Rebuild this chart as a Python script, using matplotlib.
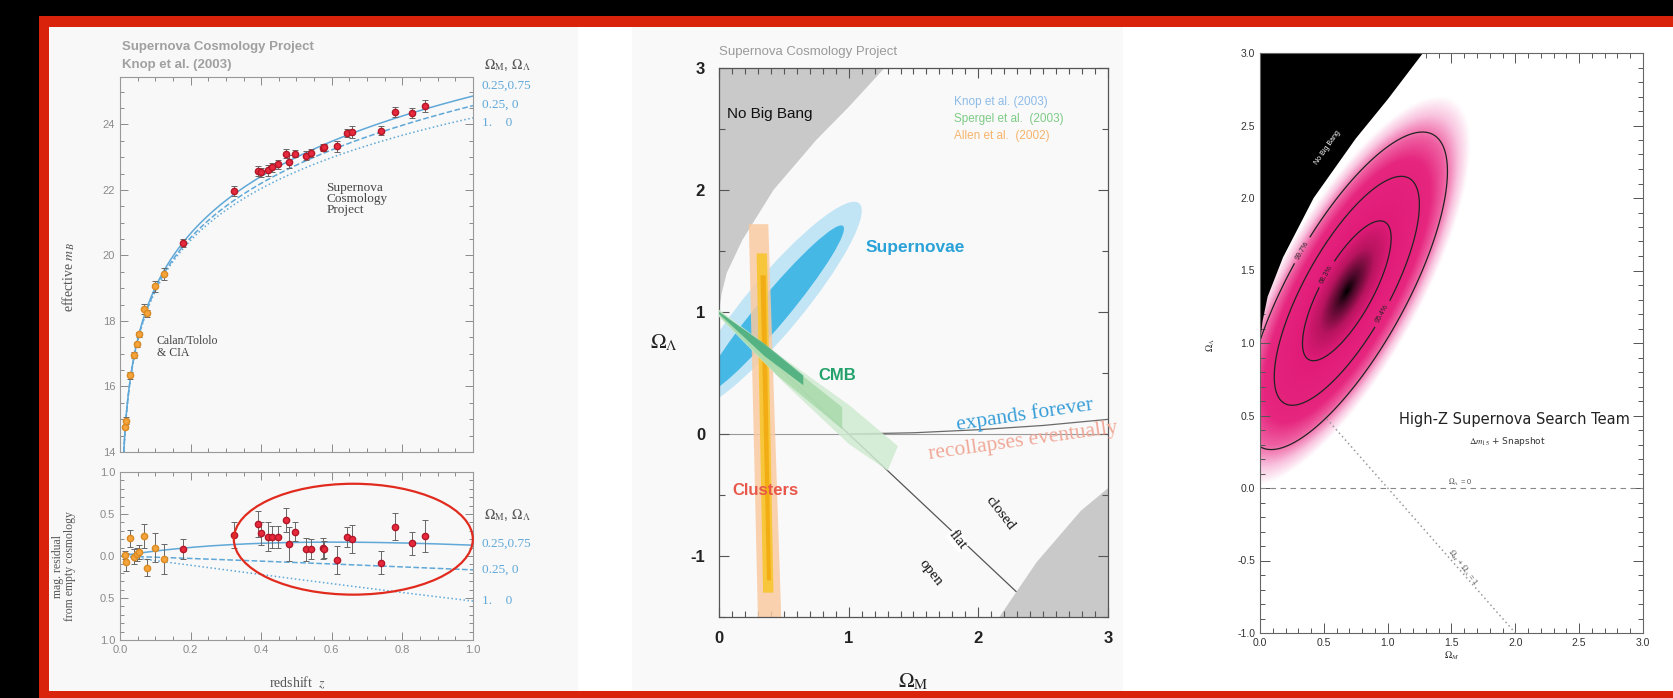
import numpy as np
import matplotlib.pyplot as plt
from matplotlib.patches import Rectangle, Ellipse, Polygon
from matplotlib.colors import LinearSegmentedColormap
from matplotlib.ticker import MultipleLocator, FixedLocator, FixedFormatter

plt.rcParams['mathtext.fontset'] = 'stix'
plt.rcParams['font.family'] = ['Liberation Sans', 'DejaVu Sans']

W, H = 1674, 698

# ---- Knop et al. (2003) Hubble diagram ----
# low-z Calan/Tololo & CfA: redshift, residual from empty cosmology, error
cta_z = [0.015, 0.017, 0.028, 0.041, 0.047, 0.053, 0.069, 0.077, 0.100, 0.125]
cta_res = [0.01, -0.07, 0.21, -0.01, 0.02, 0.05, 0.24, -0.14, 0.10, -0.04]
cta_err = [0.05, 0.11, 0.10, 0.09, 0.08, 0.08, 0.14, 0.10, 0.17, 0.18]

# SCP high-z supernovae
scp_z = [0.179, 0.323, 0.390, 0.400, 0.418, 0.432, 0.448, 0.469, 0.479, 0.495,
         0.526, 0.542, 0.575, 0.578, 0.615, 0.642, 0.658, 0.739, 0.779, 0.828, 0.863]
scp_res = [0.08, 0.25, 0.38, 0.27, 0.23, 0.23, 0.23, 0.43, 0.14, 0.29,
           0.08, 0.08, 0.09, 0.08, -0.05, 0.23, 0.20, -0.08, 0.35, 0.15, 0.24]
scp_err = [0.12, 0.15, 0.15, 0.14, 0.17, 0.13, 0.13, 0.14, 0.20, 0.11,
           0.14, 0.12, 0.12, 0.10, 0.17, 0.12, 0.17, 0.14, 0.16, 0.14, 0.19]

M_SCRIPT = 23.86   # m_B = M + 5 log10(H0 dL / c)

model_om = [0.25, 0.25, 1.0]
model_ol = [0.75, 0.0, 0.0]
model_ls = ['-', '--', ':']
model_lbl = ['0.25,0.75', '0.25, 0', '1.    0']

# ---- Omega_M / Omega_L plane (SCP) ----
nbb_om = [0.0, 0.02, 0.06, 0.18, 0.42, 0.75, 1.00, 1.32]
nbb_ol = [1.0, 1.15, 1.32, 1.59, 2.00, 2.41, 2.68, 3.05]
rec_om = [2.13, 2.45, 2.79, 3.05]
rec_ol = [-1.55, -1.05, -0.63, -0.40]
exp_om = [1.0, 1.5, 2.0, 2.5, 3.0]
exp_ol = [0.0, 0.01, 0.035, 0.07, 0.12]
flat_om = [0.0, 2.5]
flat_ol = [1.0, -1.5]

sn_angle = 52.0
sn_outer = ((0.42, 1.05), 2.14, 0.44)
sn_inner = ((0.42, 1.02), 1.74, 0.24)

cl_outer_om = [0.23, 0.38, 0.48, 0.30]
cl_outer_ol = [1.72, 1.72, -1.50, -1.50]
cl_inner_om = [0.29, 0.37, 0.42, 0.34]
cl_inner_ol = [1.48, 1.48, -1.30, -1.30]
cl_core_om = [0.32, 0.36, 0.40, 0.37]
cl_core_ol = [1.30, 1.30, -1.20, -1.20]

cmb_outer_om = [0.0, 0.5, 1.0, 1.38, 1.30, 1.0, 0.5, 0.0]
cmb_outer_ol = [1.02, 0.62, 0.24, -0.10, -0.30, -0.08, 0.42, 0.96]
cmb_mid_om = [0.0, 0.45, 0.95, 0.95, 0.45, 0.0]
cmb_mid_ol = [1.01, 0.64, 0.22, 0.04, 0.48, 0.97]
cmb_inner_om = [0.0, 0.35, 0.65, 0.65, 0.35, 0.0]
cmb_inner_ol = [1.0, 0.74, 0.48, 0.40, 0.64, 0.985]

# ---- High-Z team likelihood ----
hz_center = (0.68, 1.36)
hz_angle = 57.0
hz_sigma = (0.37, 0.13)
hz_levels = [1.515, 2.48, 3.44]
hz_level_lbl = ['68.3%', '95.4%', '99.7%']
hz_flat_om = [0.5, 2.0]
hz_flat_ol = [0.5, -1.0]


def lum_dist(z, om, ol):
    """luminosity distance in units of c/H0"""
    z = np.asarray(z, dtype=float)
    zz = np.linspace(0, max(z.max(), 1.0), 4000)
    ok = 1.0 - om - ol
    ez = np.sqrt(om * (1 + zz)**3 + ok * (1 + zz)**2 + ol)
    chi = np.concatenate([[0], np.cumsum(0.5 * (1/ez[1:] + 1/ez[:-1]) * np.diff(zz))])
    chi = np.interp(z, zz, chi)
    if ok > 1e-8:
        s = np.sinh(np.sqrt(ok) * chi) / np.sqrt(ok)
    elif ok < -1e-8:
        s = np.sin(np.sqrt(-ok) * chi) / np.sqrt(-ok)
    else:
        s = chi
    return (1 + z) * s


def fbox(x0, y0, x1, y1):
    return [x0 / W, 1 - y1 / H, (x1 - x0) / W, (y1 - y0) / H]


def fpt(x, y):
    return x / W, 1 - y / H


fig = plt.figure(figsize=(W / 100, H / 100), dpi=100)
fig.patch.set_facecolor('black')

for box, col in [((39, 16, W, H), '#d9230b'), ((49, 27, W, 691), 'white'),
                 ((49, 27, 578, 691), '#f8f8f8'), ((632, 27, 1123, 691), '#f9f9f9')]:
    l, b, w, h = fbox(*box)
    fig.add_artist(Rectangle((l, b), w, h, transform=fig.transFigure,
                             facecolor=col, edgecolor='none', zorder=-5))

serif = 'Liberation Serif'
blue = '#5fa8d8'
gtick = '#8a8a8a'

# ================= left: Hubble diagram =================
ax1 = fig.add_axes(fbox(120, 77, 473, 452))
ax2 = fig.add_axes(fbox(120, 472, 473, 640))
zz = np.linspace(0.006, 1.0, 500)
cz, sz = np.array(cta_z), np.array(scp_z)
m_cta = M_SCRIPT + 5 * np.log10(lum_dist(cz, 0, 0)) + np.array(cta_res)
m_scp = M_SCRIPT + 5 * np.log10(lum_dist(sz, 0, 0)) + np.array(scp_res)

for om, ol, ls in zip(model_om, model_ol, model_ls):
    ax1.plot(zz, M_SCRIPT + 5 * np.log10(lum_dist(zz, om, ol)), ls=ls, color=blue, lw=1.1)
    ax2.plot(zz, 5 * np.log10(lum_dist(zz, om, ol) / lum_dist(zz, 0, 0)), ls=ls, color=blue, lw=1.1)

ekw = dict(fmt='o', ms=4.5, ecolor='#666666', elinewidth=0.7, capsize=2, capthick=0.7, zorder=3)
ax1.errorbar(cz, m_cta, yerr=cta_err, mfc='#f4a43a', mec='#d98a22', **ekw)
ax1.errorbar(sz, m_scp, yerr=scp_err, mfc='#e8283c', mec='#b01828', **ekw)
ax2.errorbar(cz, cta_res, yerr=cta_err, mfc='#f4a43a', mec='#d98a22', **ekw)
ax2.errorbar(sz, scp_res, yerr=scp_err, mfc='#e8283c', mec='#b01828', **ekw)

ax1.set_xlim(0, 1)
ax1.set_ylim(14, 25.45)
ax2.set_xlim(0, 1)
ax2.set_ylim(-1, 1)
for ax in (ax1, ax2):
    ax.set_facecolor('none')
    ax.xaxis.set_major_locator(MultipleLocator(0.2))
    ax.xaxis.set_minor_locator(MultipleLocator(0.05))
    ax.tick_params(which='both', direction='in', top=True, right=True,
                   color=gtick, labelcolor=gtick, labelsize=8, width=0.7)
    ax.tick_params(which='major', length=6)
    ax.tick_params(which='minor', length=3)
    for sp in ax.spines.values():
        sp.set_color('#999999')
        sp.set_linewidth(0.8)
ax1.tick_params(labelbottom=False)
ax1.yaxis.set_major_locator(MultipleLocator(2))
ax1.yaxis.set_minor_locator(MultipleLocator(0.5))
ax2.yaxis.set_major_locator(FixedLocator([-1, -0.5, 0, 0.5, 1]))
ax2.yaxis.set_major_formatter(FixedFormatter(['1.0', '0.5', '0.0', '0.5', '1.0']))
ax2.yaxis.set_minor_locator(MultipleLocator(0.1))
ax2.set_xticks([0, 0.2, 0.4, 0.6, 0.8, 1.0])
ax2.set_xticklabels(['0.0', '0.2', '0.4', '0.6', '0.8', '1.0'])

ax1.set_ylabel(r'effective $m_B$', family=serif, fontsize=10, color='#555555')
ax1.yaxis.set_label_coords(-0.122, 0.467)
ax2.set_ylabel('mag. residual\nfrom empty cosmology', family=serif, fontsize=8.5,
               color='#555555', linespacing=0.95)
ax2.yaxis.set_label_coords(-0.125, 0.44)
fig.text(*fpt(297, 683), r'redshift  $z$', family=serif, fontsize=10, color='#555555',
         ha='center', va='center')

fig.text(*fpt(122, 47), 'Supernova Cosmology Project', fontsize=9.5, color='#a0a0a0',
         va='center', weight='bold')
fig.text(*fpt(122, 65), 'Knop et al. (2003)', fontsize=9.5, color='#a0a0a0',
         va='center', weight='bold')
ax1.text(0.585, 0.675, 'Supernova\nCosmology\nProject', transform=ax1.transAxes, family=serif,
         fontsize=9.5, color='#444444', linespacing=0.85, va='center')
ax1.text(0.104, 0.28, 'Calan/Tololo\n& CIA', transform=ax1.transAxes, family=serif,
         fontsize=8.5, color='#444444', linespacing=0.95, va='center')

for ylab, ys in [(65, (86, 105, 123)), (515, (544, 570, 601))]:
    fig.text(*fpt(484, ylab), r'$\Omega_{\rm M}$, $\Omega_\Lambda$', fontsize=10,
             color='#555555', va='center')
    for lbl, yy in zip(model_lbl, ys):
        fig.text(*fpt(482, yy), lbl, family=serif, fontsize=9.5, color=blue, va='center')

ax2.add_patch(Ellipse((0.661, 0.20), 0.677, 1.32, fill=False, edgecolor='#e02b1e',
                      lw=1.6, clip_on=False, zorder=5))

# ================= middle: Omega_M - Omega_L plane =================
ax3 = fig.add_axes(fbox(719, 68, 1108, 617))
ax3.set_facecolor('none')
ax3.set_xlim(0, 3)
ax3.set_ylim(-1.5, 3)
gray = '#c9c9c9'
ax3.add_patch(Polygon(list(zip(nbb_om, nbb_ol)) + [(0, 3.05)], closed=True,
                      fc=gray, ec='none', zorder=1))
ax3.add_patch(Polygon(list(zip(rec_om, rec_ol)) + [(3.05, -1.55)], closed=True,
                      fc=gray, ec='none', zorder=1))
ax3.axhline(0, color='#999999', lw=0.8, zorder=1.5)
ax3.plot(exp_om, exp_ol, color='#6a6a6a', lw=0.9, zorder=1.6)
ax3.plot(flat_om, flat_ol, color='#555555', lw=0.9, zorder=0.9)

ax3.add_patch(Ellipse(sn_outer[0], sn_outer[1], sn_outer[2], angle=sn_angle,
                      fc='#c2e5f6', ec='none', zorder=2))
ax3.add_patch(Ellipse(sn_inner[0], sn_inner[1], sn_inner[2], angle=sn_angle,
                      fc='#45b8e6', ec='none', zorder=2.1))
ax3.add_patch(Polygon(list(zip(cl_outer_om, cl_outer_ol)), closed=True,
                      fc='#f9caa2', ec='none', alpha=0.85, zorder=2.5))
ax3.add_patch(Polygon(list(zip(cl_inner_om, cl_inner_ol)), closed=True,
                      fc='#f7c63a', ec='none', zorder=2.6))
ax3.add_patch(Polygon(list(zip(cl_core_om, cl_core_ol)), closed=True,
                      fc='#f2ad14', ec='none', zorder=2.7))
ax3.add_patch(Polygon(list(zip(cmb_outer_om, cmb_outer_ol)), closed=True,
                      fc='#cfead0', ec='none', alpha=0.85, zorder=3))
ax3.add_patch(Polygon(list(zip(cmb_mid_om, cmb_mid_ol)), closed=True,
                      fc='#a6d9a8', ec='none', alpha=0.8, zorder=3.05))
ax3.add_patch(Polygon(list(zip(cmb_inner_om, cmb_inner_ol)), closed=True,
                      fc='#3fa878', ec='none', alpha=0.8, zorder=3.1))

ax3.xaxis.set_major_locator(MultipleLocator(1))
ax3.xaxis.set_minor_locator(MultipleLocator(0.1))
ax3.yaxis.set_major_locator(MultipleLocator(1))
ax3.yaxis.set_minor_locator(MultipleLocator(0.5))
ax3.tick_params(which='both', direction='in', top=True, right=True, color='#555555',
                labelsize=12, labelcolor='#222222', width=0.8)
ax3.tick_params(which='major', length=7, pad=10)
ax3.tick_params(which='minor', length=4)
for sp in ax3.spines.values():
    sp.set_color('#555555')
    sp.set_linewidth(0.9)
ax3.set_xticks([0, 1, 2, 3])
ax3.set_xticklabels(['0', '1', '2', '3'], weight='bold')
ax3.set_yticks([-1, 0, 1, 2, 3])
ax3.set_yticklabels(['-1', '0', '1', '2', '3'], weight='bold')

fig.text(*fpt(650, 343), r'$\Omega_\Lambda$', fontsize=15, color='#222222', va='center', ha='left')
fig.text(*fpt(913, 682), r'$\Omega_{\rm M}$', fontsize=15, color='#222222', va='center', ha='center')
fig.text(*fpt(719, 52), 'Supernova Cosmology Project', fontsize=9.5, color='#9a9a9a', va='center')

ax3.text(0.06, 2.62, 'No Big Bang', fontsize=11, color='#111111', va='center', zorder=5)
ax3.text(1.13, 1.53, 'Supernovae', fontsize=12.5, color='#2aa2d8', weight='bold', va='center', zorder=5)
ax3.text(0.77, 0.48, 'CMB', fontsize=12, color='#22a26a', weight='bold', va='center', zorder=5)
ax3.text(0.10, -0.46, 'Clusters', fontsize=12, color='#e8584a', weight='bold', va='center', zorder=5)
for lbl, yy, c in [('Knop et al. (2003)', 2.72, '#8ebbe8'), ('Spergel et al.  (2003)', 2.58, '#7dcb86'),
                   ('Allen et al.  (2002)', 2.44, '#f6b46c')]:
    ax3.text(1.81, yy, lbl, fontsize=8.5, color=c, va='center', zorder=5)
ax3.text(1.83, 0.07, 'expands forever', family=serif, fontsize=15.5, color='#3a9fd8',
         rotation=8.5, rotation_mode='anchor', va='center', zorder=5)
rc = ax3.text(1.62, -0.17, 'recollapses eventually', family=serif, fontsize=15.5, color='#f0a898',
              rotation=8, rotation_mode='anchor', va='center', zorder=5)
l, b, w, h = fbox(632, 27, 1123, 691)
rc.set_clip_path(Rectangle((l, b), w, h, transform=fig.transFigure))
rc.set_clip_on(True)
for lbl, x, y in [('closed', 2.17, -0.65), ('flat', 1.84, -0.87), ('open', 1.63, -1.14)]:
    ax3.text(x, y, lbl, family=serif, fontsize=11, color='#111111', rotation=-52,
             rotation_mode='anchor', ha='center', va='center', zorder=5,
             bbox=dict(fc='white', ec='none', pad=0.5) if lbl == 'flat' else None)

# ================= right: High-Z team =================
ax4 = fig.add_axes(fbox(1260, 53, 1643, 633))
ax4.set_xlim(0, 3)
ax4.set_ylim(-1, 3)
gx, gy = np.meshgrid(np.linspace(0, 3, 601), np.linspace(-1, 3, 801))
th = np.deg2rad(hz_angle)
du, dv = gx - hz_center[0], gy - hz_center[1]
u = du * np.cos(th) + dv * np.sin(th)
v = -du * np.sin(th) + dv * np.cos(th)
r = np.sqrt((u / hz_sigma[0])**2 + (v / hz_sigma[1])**2)
pink = LinearSegmentedColormap.from_list('pink_like', [
    (0.0, '#000000'), (0.07, '#4a0828'), (0.2, '#b8145f'), (0.33, '#e01b78'),
    (0.62, '#e6267f'), (0.73, '#ef62a3'), (0.83, '#f9c4df'), (0.92, '#ffffff'), (1.0, '#ffffff')])
ax4.imshow(r, cmap=pink, vmin=0, vmax=4.6, origin='lower', extent=[0, 3, -1, 3],
           aspect='auto', interpolation='bilinear', zorder=1)
cs = ax4.contour(gx, gy, r, levels=hz_levels, colors='#222222', linewidths=0.9, zorder=2)
ax4.clabel(cs, fmt=dict(zip(hz_levels, hz_level_lbl)), fontsize=5, inline=True)
ax4.add_patch(Polygon(list(zip(nbb_om, nbb_ol)) + [(0, 3.05)], closed=True,
                      fc='black', ec='none', zorder=3))
ax4.axhline(0, color='#888888', lw=0.8, ls=(0, (5, 4)), zorder=2)
ax4.plot(hz_flat_om, hz_flat_ol, color='#999999', lw=1.1, ls=(0, (1, 2)), zorder=2)

ax4.text(0.53, 2.35, 'No Big Bang', fontsize=5, color='white', rotation=55,
         ha='center', va='center', zorder=4)
ax4.text(1.99, 0.47, 'High-Z Supernova Search Team', family='DejaVu Sans', fontsize=10.5,
         color='#222222', ha='center', va='center')
ax4.text(1.94, 0.32, r'$\Delta m_{15}$ + Snapshot', family='DejaVu Sans', fontsize=6.5,
         color='#333333', ha='center', va='center')
ax4.text(1.57, 0.04, r'$\Omega_\Lambda$ = 0', fontsize=5.5, color='#555555', ha='center', va='center')
ax4.text(1.59, -0.55, r'$\Omega_M$ + $\Omega_\Lambda$ = 1', fontsize=5.5, color='#555555',
         rotation=-52, ha='center', va='center')

ax4.xaxis.set_major_locator(MultipleLocator(0.5))
ax4.xaxis.set_minor_locator(MultipleLocator(0.1))
ax4.yaxis.set_major_locator(MultipleLocator(0.5))
ax4.yaxis.set_minor_locator(MultipleLocator(0.1))
ax4.xaxis.set_major_formatter(plt.FormatStrFormatter('%.1f'))
ax4.yaxis.set_major_formatter(plt.FormatStrFormatter('%.1f'))
ax4.tick_params(which='both', direction='in', top=True, right=True, color='#555555',
                labelsize=7.5, labelcolor='#333333', width=0.7)
ax4.tick_params(which='major', length=7)
ax4.tick_params(which='minor', length=3.5)
for sp in ax4.spines.values():
    sp.set_color('#666666')
    sp.set_linewidth(0.8)
    sp.set_zorder(5)
ax4.set_ylabel(r'$\Omega_\Lambda$', fontsize=7, color='#333333')
ax4.yaxis.set_label_coords(-0.112, 0.497)
ax4.set_xlabel(r'$\Omega_M$', fontsize=7, color='#333333', labelpad=1)

fig.savefig('out.png', dpi=100, facecolor=fig.get_facecolor())
